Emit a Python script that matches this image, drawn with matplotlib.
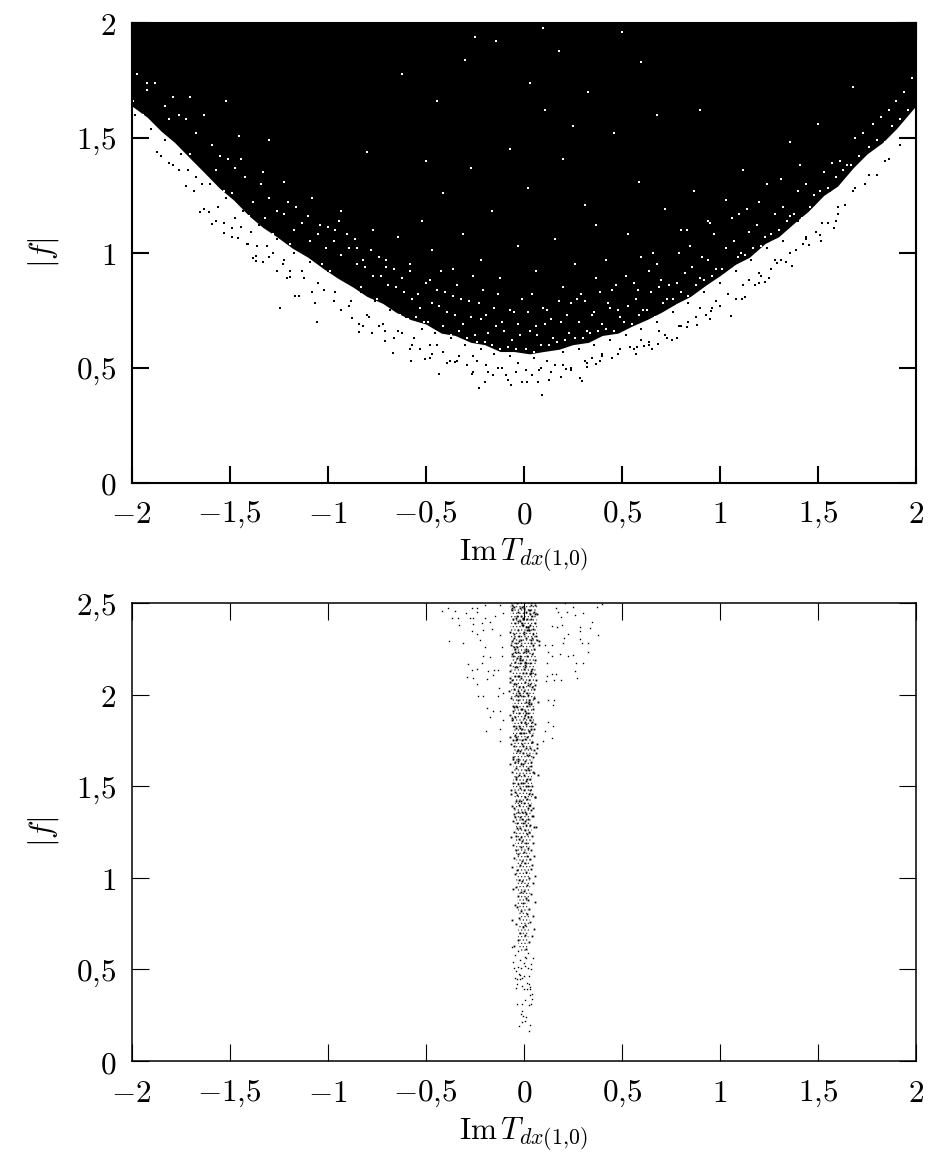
import matplotlib
matplotlib.use('Agg')
import matplotlib.pyplot as plt

plt.rcParams['mathtext.fontset'] = 'cm'
plt.rcParams['font.family'] = 'serif'
plt.rcParams['font.serif'] = ['DejaVu Serif']
plt.rcParams['font.size'] = 22.5
plt.rcParams['hatch.linewidth'] = 0.5

x_ticks = [-2, -1.5, -1, -0.5, 0, 0.5, 1, 1.5, 2]
x_labels = ['$-2$', '$-1{,}5$', '$-1$', '$-0{,}5$', '$0$', '$0{,}5$', '$1$', '$1{,}5$', '$2$']
y_ticks_top = [0, 0.5, 1, 1.5, 2]
y_labels_top = ['$0$', '$0{,}5$', '$1$', '$1{,}5$', '$2$']
y_ticks_bot = [0, 0.5, 1, 1.5, 2, 2.5]
y_labels_bot = ['$0$', '$0{,}5$', '$1$', '$1{,}5$', '$2$', '$2{,}5$']

# top panel: the cloud is too dense to read point by point, so read its lower edge
edge_x = [-2, -1.92, -1.85, -1.78, -1.7, -1.63, -1.55, -1.48, -1.4, -1.33, -1.26, -1.18, -1.1, -1.02, -.95, -.87, -.8, -.72, -.65,
          -.58, -.5, -.42, -.35, -.27, -.2, -.12, -.05, .03, .1, .18, .25, .33, .4, .48, .55, .63, .7, .78, .85, .93, 1, 1.08,
          1.15, 1.23, 1.3, 1.38, 1.45, 1.53, 1.6, 1.68, 1.75, 1.83, 1.9, 2]
edge_y = [1.64, 1.59, 1.53, 1.48, 1.41, 1.35, 1.28, 1.23, 1.16, 1.11, 1.07, 1.02, .98, .93, .89, .85, .81, .78, .74,
          .71, .69, .65, .64, .61, .6, .57, .57, .56, .57, .58, .6, .61, .64, .65, .68, .71, .74, .78, .81, .86, .9, .95,
          .98, 1.04, 1.07, 1.13, 1.18, 1.25, 1.29, 1.37, 1.43, 1.48, 1.54, 1.64]
top_limit = [2] * 54

# points lying below the cloud edge
low_x = [-1.652, -1.604, -1.591, -1.529, -1.487, -1.455, -1.405, -1.38, -1.363, -1.363, -1.30, -1.257, -1.205, -1.193,
         -1.167, -1.148, -1.244, -1.065, -1.052, -0.875, -0.842, -0.82, -0.776, -0.705, -0.665, -0.58, -0.575, -0.504,
         -0.478, -0.431, -0.376, -0.35, -0.266, -0.258, -0.23, -0.196, -0.155, -0.079, -0.065, -0.01, 0.017, 0.015,
         0.075, 0.129, 0.095, 0.188, 0.287, 0.299, 0.214, 0.325, 0.369, 0.391, 0.571, 0.653, 0.614, 0.576, 0.687,
         0.755, 0.782, 0.831, 0.882, 1.059, 0.95, 0.955, 1.112, 1.126, 1.0, 1.177, 1.197, 1.228, 1.248, 1.37, 1.336,
         1.29, 1.452, 1.425, 1.515, 1.513, 1.581, 1.593,
         -1.85, -1.81, -1.76, -1.72, -1.68, -1.63, -1.57, -1.53, -1.49, -1.44, -1.41, -1.36, -1.33, -1.28, -1.23, -1.19,
         -1.12, -1.08, -1.02, -0.97, -0.93, -0.89, -0.84, -0.79, -0.74, -0.71, -0.66, -0.62, -0.57, -0.53, -0.47, -0.44,
         -0.39, -0.33, -0.29, -0.24, -0.18, -0.13, -0.09, -0.04, 0.04, 0.09, 0.14, 0.2, 0.24, 0.31, 0.35, 0.4, 0.45, 0.49,
         0.54, 0.6, 0.64, 0.69, 0.73, 0.79, 0.84, 0.9, 0.93, 0.98, 1.04, 1.08, 1.15, 1.21, 1.26, 1.31, 1.39, 1.44, 1.49,
         1.55, 1.6, 1.64, 1.69, 1.74, 1.8, 1.86]
low_y = [1.179, 1.177, 1.126, 1.087, 1.109, 1.063, 1.038, 0.976, 0.986, 0.964, 0.98, 0.922, 0.888, 0.895,
         0.81, 0.81, 0.761, 0.78, 0.697, 0.717, 0.655, 0.68, 0.649, 0.618, 0.565, 0.58, 0.529, 0.537,
         0.542, 0.474, 0.527, 0.523, 0.472, 0.482, 0.411, 0.437, 0.469, 0.446, 0.423, 0.439, 0.437, 0.439,
         0.439, 0.446, 0.381, 0.46, 0.456, 0.441, 0.494, 0.501, 0.517, 0.53, 0.561, 0.582, 0.595, 0.591, 0.604,
         0.621, 0.627, 0.678, 0.685, 0.725, 0.711, 0.746, 0.80, 0.807, 0.77, 0.86, 0.867, 0.873, 0.891, 0.942, 0.96,
         0.957, 1.035, 1.037, 1.051, 1.077, 1.106, 1.138,
         1.42, 1.39, 1.36, 1.29, 1.27, 1.19, 1.14, 1.13, 1.07, 1.11, 1.04, 1.03, 0.96, 1.0, 0.95, 0.92,
         0.89, 0.83, 0.84, 0.79, 0.75, 0.77, 0.69, 0.72, 0.68, 0.66, 0.63, 0.65, 0.6, 0.58, 0.56, 0.6,
         0.52, 0.55, 0.51, 0.53, 0.48, 0.5, 0.47, 0.48, 0.47, 0.5, 0.48, 0.51, 0.49, 0.53, 0.54, 0.56, 0.54, 0.58,
         0.59, 0.62, 0.61, 0.66, 0.63, 0.68, 0.7, 0.76, 0.73, 0.79, 0.82, 0.8, 0.88, 0.9, 0.93, 0.97, 1.01, 1.06, 1.09,
         1.13, 1.17, 1.21, 1.28, 1.3, 1.34, 1.41]

# dots just under the edge, where the cloud thins out
fringe_x = [-1.98, -1.94, -1.9, -1.87, -1.83, -1.79, -1.75, -1.71, -1.67, -1.64, -1.6, -1.56, -1.52, -1.47, -1.43, -1.39, -1.35,
            -1.31, -1.26, -1.22, -1.17, -1.13, -1.09, -1.05, -1.0, -.96, -.92, -.88, -.83, -.8, -.76, -.72, -.68, -.64, -.6,
            -.56, -.52, -.48, -.45, -.41, -.37, -.34, -.3, -.26, -.22, -.19, -.15, -.11, -.07, -.03, .01, .05, .08, .12, .16,
            .2, .24, .28, .32, .36, .4, .44, .48, .52, .56, .6, .64, .68, .72, .76, .8, .84, .88, .92, .96, 1.0, 1.04, 1.08,
            1.12, 1.16, 1.2, 1.24, 1.28, 1.32, 1.36, 1.4, 1.44, 1.48, 1.52, 1.56, 1.6, 1.64, 1.68, 1.72, 1.76, 1.8, 1.84,
            1.88, 1.92, 1.96, 2]
fringe_y = [1.6, 1.5, 1.54, 1.44, 1.49, 1.38, 1.43, 1.36, 1.33, 1.3, 1.3, 1.2, 1.24, 1.15, 1.18, 1.09, 1.12,
            1.03, 1.06, .97, 1.0, .92, .96, .87, .92, .83, .88, .79, .83, .73, .79, .69, .75, .66, .72,
            .63, .67, .6, .65, .57, .63, .53, .6, .55, .58, .51, .56, .5, .55, .52, .49, .54, .49, .53, .51,
            .57, .5, .58, .52, .6, .55, .62, .56, .64, .58, .67, .6, .7, .64, .74, .68, .78, .72, .83, .76, .87, .82, .92,
            .86, .97, .91, 1.02, .97, 1.05, 1.0, 1.14, 1.07, 1.21, 1.13, 1.27, 1.2, 1.35, 1.27, 1.42, 1.34, 1.5, 1.4,
            1.56, 1.47, 1.62, 1.55]

# white gaps left inside the cloud, thick near the edge and rare higher up
gap_x = [-1.99, -1.97, -1.94, -1.92, -1.9, -1.88, -1.85, -1.83, -1.81, -1.79, -1.77, -1.76,
         -1.74, -1.72, -1.7, -1.67, -1.65, -1.63, -1.61, -1.59, -1.57, -1.55, -1.53, -1.51,
         -1.49, -1.47, -1.45, -1.42, -1.4, -1.38, -1.36, -1.34, -1.32, -1.3, -1.28, -1.26, -1.44, -1.33,
         -1.24, -1.22, -1.19, -1.17, -1.15, -1.13, -1.11, -1.09, -1.07, -1.05, -1.03, -1.01, -1.2, -1.1, -1.16, -1.04,
         -.99, -.97, -.95, -.93, -.91, -.89, -.87, -.85, -.83, -.81, -.79, -.77, -.96, -.9, -.86, -.82, -.78, -.94,
         -.75, -.73, -.71, -.69, -.67, -.65, -.63, -.61, -.59, -.57, -.55, -.53, -.51, -.74, -.7, -.66, -.62, -.58, -.54, -.5,
         -.49, -.47, -.45, -.43, -.41, -.39, -.37, -.35, -.33, -.31, -.29, -.27, -.25, -.48, -.44, -.4, -.36, -.32, -.28, -.26, -.42, -.34,
         -.24, -.22, -.2, -.18, -.16, -.14, -.12, -.1, -.08, -.06, -.04, -.02, -.23, -.19, -.15, -.11, -.07, -.03, -.21, -.13, -.05, -.01,
         .01, .03, .05, .07, .09, .11, .13, .15, .17, .19, .21, .23, .02, .06, .1, .14, .18, .22, .04, .12, .2, .24,
         .26, .28, .3, .32, .34, .36, .38, .4, .42, .44, .46, .48, .27, .31, .35, .39, .43, .47, .29, .37, .45, .49,
         .51, .53, .55, .57, .59, .61, .63, .65, .67, .69, .71, .73, .52, .58, .64, .7, .56, .68, .6, .74,
         .76, .78, .8, .82, .84, .86, .88, .9, .92, .94, .96, .98, .79, .85, .91, .97, .83, .95,
         1.01, 1.03, 1.05, 1.07, 1.09, 1.11, 1.13, 1.15, 1.17, 1.19, 1.21, 1.23, 1.06, 1.14, 1.2, 1.1,
         1.26, 1.28, 1.3, 1.32, 1.34, 1.36, 1.38, 1.4, 1.42, 1.44, 1.46, 1.48, 1.31, 1.41,
         1.51, 1.53, 1.55, 1.57, 1.59, 1.61, 1.63, 1.65, 1.67, 1.69, 1.71, 1.73,
         1.76, 1.78, 1.8, 1.82, 1.84, 1.86, 1.88, 1.9, 1.92, 1.94, 1.96, 1.98,
         -1.92, -1.7, -1.52, -1.45, -1.3, -1.22, -1.08, -1.0, -0.93, -0.85, -0.77, -0.7, -0.64, -0.58, -0.52, -0.47,
         -0.41, -0.36, -0.31, -0.27, -0.22, -0.16, -0.12, -0.07, -0.03, 0.02, 0.06, 0.11, 0.16, 0.2, 0.26, 0.31, 0.37,
         0.42, 0.46, 0.53, 0.59, 0.66, 0.72, 0.8, 0.87, 0.94, 1.03, 1.12, 1.24, 1.36, 1.5, 1.68,
         -0.62, -0.44, -0.3, -0.14, 0.03, 0.18, 0.33, 0.5, 0.68, -0.8, 0.9, -0.25, 0.1, 0.25, -0.5, 0.6]
gap_y = [1.66, 1.78, 1.6, 1.71, 1.55, 1.74, 1.52, 1.64, 1.58, 1.68, 1.46, 1.6,
         1.44, 1.58, 1.43, 1.52, 1.35, 1.6, 1.31, 1.47, 1.36, 1.42, 1.27, 1.41,
         1.26, 1.37, 1.19, 1.33, 1.16, 1.22, 1.12, 1.3, 1.15, 1.24, 1.08, 1.18, 1.41, 1.35,
         1.03, 1.17, 1.04, 1.1, .98, 1.13, .97, 1.05, .92, 1.08, .95, 1.02, 1.22, 1.16, 1.2, 1.12,
         .92, 1.05, .88, .99, .86, 1.02, .84, .95, .85, .94, .8, .9, 1.1, 1.08, 1.06, .97, 1.01, 1.14,
         .8, .9, .76, .86, .74, .85, .73, .83, .71, .8, .72, .76, .7, .98, .94, .93, .89, .92, .82, .87,
         .7, .78, .66, .77, .68, .74, .64, .73, .66, .69, .63, .72, .64, .88, .84, .83, .81, .8, .79, .9, .92, .86,
         .61, .71, .61, .65, .6, .68, .58, .66, .59, .62, .58, .64, .78, .73, .76, .7, .75, .69, .84, .82, .74, .8,
         .58, .66, .57, .64, .6, .69, .6, .63, .61, .7, .62, .65, .74, .68, .76, .71, .79, .73, .82, .75, .85, .78,
         .63, .7, .63, .66, .65, .74, .66, .69, .67, .76, .66, .75, .8, .79, .73, .83, .78, .86, .82, .89, .84, .72,
         .7, .77, .69, .8, .73, .75, .75, .83, .72, .85, .78, .8, .9, .84, .92, .88, .87, .95, .98, .86,
         .8, .87, .83, .91, .81, .94, .86, .89, .88, .97, .9, .93, 1.0, 1.03, .98, 1.08, 1.1, 1.13,
         .93, 1.02, .92, 1.05, .98, 1.0, .99, 1.09, 1.02, 1.12, 1.03, 1.07, 1.15, 1.19, 1.22, 1.17,
         1.08, 1.17, 1.1, 1.2, 1.14, 1.16, 1.17, 1.27, 1.15, 1.3, 1.2, 1.25, 1.32, 1.38,
         1.27, 1.35, 1.28, 1.39, 1.33, 1.4, 1.36, 1.38, 1.38, 1.5, 1.42, 1.52,
         1.46, 1.56, 1.49, 1.59, 1.48, 1.62, 1.55, 1.66, 1.58, 1.7, 1.62, 1.76,
         1.74, 1.68, 1.66, 1.51, 1.49, 1.31, 1.24, 1.11, 1.18, 1.02, 1.1, 0.97, 1.07, 0.95, 1.14, 1.01,
         1.26, 0.93, 1.08, 1.37, 0.97, 1.18, 0.89, 1.45, 1.03, 1.28, 0.92, 1.62, 1.06, 1.41, 0.95, 1.21, 1.12,
         0.97, 1.52, 1.08, 1.31, 1.0, 1.19, 1.1, 1.27, 1.14, 1.23, 1.36, 1.3, 1.48, 1.56, 1.72,
         1.78, 1.66, 1.84, 1.92, 1.74, 1.88, 1.7, 1.96, 1.6, 1.44, 1.62, 1.94, 1.98, 1.55, 1.4, 1.83]

# bottom panel, points away from the central band
side_x = [-.418, -.384, -.35, -.364, -.337, -.328, -.294, -.265, -.236, -.274, -.26, -.236, -.197, -.257, -.214, -.197,
          -.172, -.146, -.121, -.104, -.265, -.236, -.209, -.163, -.121, -.383, -.308, -.223, -.197, -.112, -.206, -.172,
          -.112, -.286, -.214, -.265, -.236, -.18, -.151, -.291, -.257, -.155, -.129, -.189, -.236, -.124, -.231, -.21,
          -.129, -.104, -.186, -.158, -.121, -.172, -.107, -.194, -.121, -.121,
          .165, .211, .253, .372, .398, .177, .219, .262, .304, .19, .347, .338, .287, .143, .168, .194, .287, .377, .228,
          .207, .287, .326, .202, .296, .143, .109, .326, .185, .228, .25, .126, .143, .265, .301, .117, .262, .274, .143,
          .165, .117, .156, .19, .114, .126, .155, .151, .126, .148, .143, .109, .097]
side_y = [2.457, 2.475, 2.459, 2.417, 2.42, 2.38, 2.444, 2.471, 2.471, 2.417, 2.42, 2.449, 2.489, 2.384, 2.389, 2.42,
          2.399, 2.431, 2.489, 2.444, 2.349, 2.329, 2.353, 2.357, 2.326, 2.295, 2.284, 2.299, 2.262, 2.259, 2.213, 2.204,
          2.208, 2.166, 2.171, 2.135, 2.14, 2.129, 2.135, 2.095, 2.089, 2.108, 2.135, 2.086, 2.057, 2.035, 1.995, 1.99,
          1.99, 2.008, 1.929, 1.908, 1.908, 1.88, 1.862, 1.799, 1.813, 1.748,
          2.471, 2.499, 2.48, 2.48, 2.495, 2.453, 2.449, 2.435, 2.444, 2.426, 2.395, 2.366, 2.371, 2.377, 2.371, 2.38, 2.348,
          2.326, 2.329, 2.308, 2.302, 2.284, 2.284, 2.28, 2.271, 2.271, 2.235, 2.22, 2.213, 2.217, 2.235, 2.213, 2.171,
          2.175, 2.171, 2.129, 2.093, 2.113, 2.115, 2.099, 2.077, 2.08, 2.075, 1.971, 1.971, 1.944, 1.853, 1.826, 1.762,
          1.799, 1.744]

# bottom panel, lower tail of the band
tail_x = [.029, -.024, .032, -.009, .005, .01, -.005, -.015, -.009, -.034, -.01, .025, .037, .007, .044, .032, .042,
          .003, .015, .032, -.041, -.01, -.036, .019, .029, .032, -.01, -.044, -.032, -.019, .003, .027, -.019, -.024,
          -.05, -.04, -.03, -.012, .005, .02, .038, -.055, -.02, -.001, .012, .035, -.045, -.028, .006, .024, .048, -.06]
tail_y = [.164, .189, .195, .213, .217, .242, .246, .258, .271, .313, .311, .304, .311, .333, .34, .358, .366,
          .391, .391, .395, .40, .411, .42, .424, .42, .406, .451, .455, .448, .448, .462, .462, .469, .473,
          .51, .49, .515, .505, .52, .51, .5, .54, .55, .535, .56, .53, .58, .6, .57, .59, .56, .62]

# bottom panel, central band
band_x = [-.05, -.031, .012, .041, -.018, .026, -.006, .052, -.042, .004, .033, -.025, .018, -.058, .046, -.012, .008, -.036, .029, -.003,
          -.047, .021, .055, -.028, .01, -.015, .038, -.054, .001, .017, -.039, .049, -.008, .027, -.022, .058, -.045, .014, -.033, .036,
          -.06, -.02, .006, .044, -.011, .03, -.05, .019, -.03, .053, .002, -.041, .024, -.016, .039, -.056, .011, -.007, .047, -.026,
          -.064, -.037, -.012, .015, .042, -.048, .004, .028, -.021, .051, -.033, .009, -.002, .034, -.055, .02, -.043, .006, .045, -.017,
          -.052, -.029, .013, .037, -.009, .023, -.062, .048, -.024, .001, .031, -.04, .016, -.014, .056, -.035, .008, .026, -.047, .041,
          -.066, -.019, .003, .022, -.031, .043, -.053, .012, -.006, .033, -.042, .018, -.025, .05, -.059, -.001, .028, -.037, .009, .039,
          -.07, -.044, -.015, .007, .035, -.027, .046, -.057, .017, -.004, .025, -.036, .053, -.021, .011, -.049, .032, -.011, .04, -.063,
          -.055, -.032, -.008, .019, .044, -.068, .002, .027, -.018, .036, -.041, .054, -.026, .013, -.05, .005, .03, -.013, -.06, .021,
          -.072, -.046, -.023, .004, .024, .047, -.035, -.01, .015, .038, -.056, .009, -.03, .029, -.065, -.002, .052, -.04, .018, -.017,
          -.075, -.052, -.028, -.005, .02, .041, -.038, .008, .033, -.061, -.014, .026, -.045, .055, -.022, .012, -.069, .036, -.001, -.033,
          -.068, -.043, -.02, .006, .03, .058, -.034, -.009, .017, .044, -.057, .001, .024, -.027, .05, -.048, .011, -.015, .037, -.064,
          -.06, -.037, -.012, .014, .039, .062, -.05, -.024, .003, .028, -.07, .047, -.031, .009, -.006, .021, -.044, .034, -.018, .055,
          -.055, -.03, -.004, .018, .043, .066, -.041, -.014, .01, .033, -.062, .052, -.021, .026, -.048, .002, .037, -.008, -.035, .059,
          -.05, -.024, .002, .025, .048, .07, -.036, -.01, .014, .038, -.058, .056, -.017, .03, -.044, .007, .041, -.004, -.029, .062,
          -.052, -.026, .001, .023, .05, .074, -.038, -.012, .012, .036, -.06, .058, -.019, .029, -.045, .006, .043, -.006, -.031, .065,
          -.056, -.03, -.003, .021, .046, .071, -.042, -.016, .009, .033, -.065, .055, -.023, .027, -.049, .004, .04, -.009, -.035, .061,
          -.06, -.034, -.007, .019, .044, .076, -.046, -.02, .007, .031, -.07, .052, -.027, .025, -.053, .002, .038, -.013, -.04, .066,
          -.058, -.031, -.005, .022, .048, .08, -.044, -.018, .01, .035, -.068, .057, -.025, .028, -.05, .005, .042, -.011, -.037, .069]
band_y = [.63, .66, .61, .68, .7, .65, .73, .72, .75, .69, .76, .78, .8, .77, .79, .82, .74, .84, .83, .86,
          .85, .88, .87, .9, .89, .92, .91, .94, .93, .96, .95, .97, .98, 1.0, .99, 1.01, 1.02, 1.03, 1.04, 1.05,
          1.06, 1.07, 1.08, 1.07, 1.09, 1.1, 1.11, 1.12, 1.13, 1.12, 1.14, 1.15, 1.16, 1.17, 1.15, 1.18, 1.19, 1.2, 1.19, 1.21,
          1.22, 1.23, 1.22, 1.24, 1.23, 1.25, 1.26, 1.25, 1.27, 1.28, 1.27, 1.29, 1.3, 1.29, 1.31, 1.32, 1.33, 1.31, 1.34, 1.33,
          1.35, 1.36, 1.35, 1.37, 1.36, 1.38, 1.39, 1.38, 1.4, 1.41, 1.4, 1.42, 1.43, 1.42, 1.44, 1.45, 1.44, 1.46, 1.47, 1.46,
          1.48, 1.49, 1.48, 1.5, 1.51, 1.5, 1.52, 1.53, 1.52, 1.54, 1.55, 1.54, 1.56, 1.57, 1.58, 1.56, 1.59, 1.6, 1.59, 1.61,
          1.62, 1.63, 1.62, 1.64, 1.63, 1.65, 1.66, 1.65, 1.67, 1.68, 1.67, 1.69, 1.7, 1.69, 1.71, 1.72, 1.71, 1.73, 1.74, 1.73,
          1.75, 1.76, 1.75, 1.77, 1.78, 1.77, 1.79, 1.8, 1.79, 1.81, 1.82, 1.81, 1.83, 1.84, 1.83, 1.85, 1.86, 1.85, 1.87, 1.88,
          1.89, 1.88, 1.9, 1.91, 1.9, 1.92, 1.93, 1.92, 1.94, 1.95, 1.94, 1.96, 1.97, 1.96, 1.98, 1.99, 1.98, 2.0, 2.01, 2.0,
          2.02, 2.03, 2.02, 2.04, 2.05, 2.04, 2.06, 2.07, 2.06, 2.08, 2.09, 2.08, 2.1, 2.11, 2.1, 2.12, 2.13, 2.12, 2.14, 2.15,
          2.16, 2.15, 2.17, 2.18, 2.17, 2.19, 2.2, 2.19, 2.21, 2.22, 2.21, 2.23, 2.24, 2.23, 2.25, 2.26, 2.25, 2.27, 2.28, 2.27,
          2.29, 2.28, 2.3, 2.31, 2.3, 2.32, 2.33, 2.32, 2.34, 2.35, 2.34, 2.36, 2.35, 2.37, 2.38, 2.37, 2.39, 2.38, 2.4, 2.39,
          2.41, 2.4, 2.42, 2.41, 2.43, 2.44, 2.42, 2.43, 2.45, 2.44, 2.46, 2.45, 2.47, 2.46, 2.48, 2.47, 2.49, 2.48, 2.5, 2.49,
          2.31, 2.29, 2.33, 2.35, 2.27, 2.3, 2.26, 2.38, 2.24, 2.41, 2.22, 2.44, 2.2, 2.46, 2.18, 2.16, 2.14, 2.12, 2.1, 2.08,
          2.06, 2.04, 2.02, 2.0, 1.98, 1.96, 1.94, 1.92, 1.9, 1.88, 1.86, 1.84, 1.82, 1.8, 1.78, 1.76, 1.74, 1.72, 1.7, 1.68,
          1.66, 1.64, 1.62, 1.6, 1.58, 1.56, 1.54, 1.52, 1.5, 1.48, 1.46, 1.44, 1.42, 1.4, 1.38, 1.36, 1.34, 1.32, 1.3, 1.28,
          2.47, 2.43, 2.39, 2.35, 2.31, 2.27, 2.23, 2.19, 2.15, 2.11, 2.07, 2.03, 1.99, 1.95, 1.91, 1.87, 1.83, 1.79, 1.75, 1.71,
          2.49, 2.45, 2.41, 2.37, 2.33, 2.29, 2.25, 2.21, 2.17, 2.13, 2.09, 2.05, 2.01, 1.97, 1.93, 1.89, 1.85, 1.81, 1.77, 1.73]

# outline of the busy part of the band
hull_y = [.6, .7, .78, .85, .93, 1, 1.08, 1.16, 1.25, 1.33, 1.42, 1.5, 1.58, 1.66, 1.75, 1.83, 1.92, 2, 2.08, 2.17, 2.25, 2.33, 2.42, 2.5]
hull_left = [-.025, -.03, -.02, -.035, -.03, -.04, -.035, -.045, -.04, -.05, -.045, -.055, -.05, -.055, -.05, -.06, -.055, -.065, -.06, -.065, -.06, -.07, -.065, -.07]
hull_right = [.02, .025, .03, .02, .035, .03, .035, .03, .04, .035, .04, .045, .04, .05, .045, .055, .05, .06, .055, .065, .06, .07, .065, .07]

W, H = 930, 1155
fig = plt.figure(figsize=(W / 100, H / 100), dpi=100)
ax1 = fig.add_axes([131.5 / W, 1 - 482.5 / H, 784.5 / W, 459.5 / H])
ax2 = fig.add_axes([131.5 / W, 1 - 1061 / H, 784.5 / W, 458 / H])

ax1.fill_between(edge_x, edge_y, top_limit, color='black', linewidth=0)
ax1.plot(low_x, low_y, 's', c='black', ms=1.5, mew=0)
ax1.plot(fringe_x, fringe_y, 's', c='black', ms=2.0, mew=0)
ax1.plot(gap_x, gap_y, 's', c='white', ms=1.7, mew=0)

ax2.fill_betweenx(hull_y, hull_left, hull_right, facecolor='none', edgecolor='#333333', hatch='.....', linewidth=0)
ax2.plot(side_x, side_y, 's', c='black', ms=1.0, mew=0)
ax2.plot(tail_x, tail_y, 's', c='black', ms=1.0, mew=0)
ax2.plot(band_x, band_y, 's', c='black', ms=1.3, mew=0)

for ax, ylim, yt, yl, lw, tw in [(ax1, (0, 2), y_ticks_top, y_labels_top, 1.5, 1.5),
                                 (ax2, (0, 2.5), y_ticks_bot, y_labels_bot, 1.1, 0.8)]:
    ax.set_xlim(-2, 2)
    ax.set_ylim(ylim)
    ax.set_xticks(x_ticks, x_labels)
    ax.set_yticks(yt, yl)
    ax.tick_params(direction='in', length=12, width=tw, top=True, right=True, pad=11)
    ax.tick_params(axis='x', pad=12)
    for axis in ['top', 'bottom', 'left', 'right']:
        ax.spines[axis].set_linewidth(lw)
    ax.set_xlabel(r'$\mathrm{Im}\,T_{dx(1{,}0)}$', labelpad=5)
    ax.set_ylabel('$|f|$', labelpad=11)

fig.savefig('out.png', dpi=100)
